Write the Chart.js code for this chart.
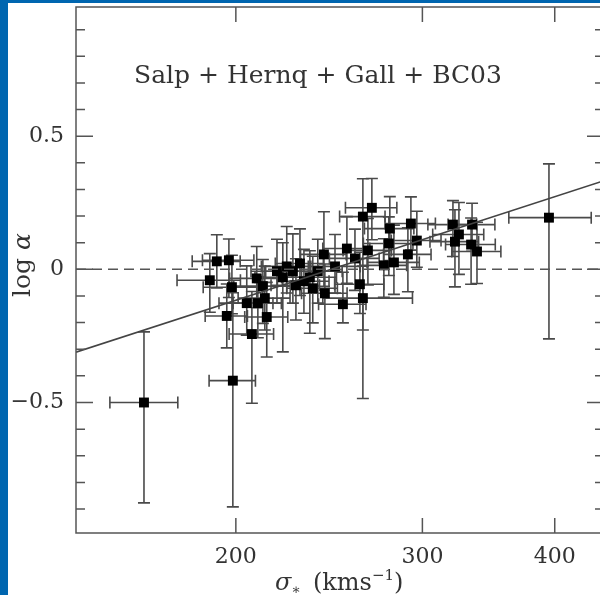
<!DOCTYPE html>
<html>
<head>
<meta charset="utf-8">
<script src="https://cdn.jsdelivr.net/npm/chart.js@4"></script>
<style>
  html, body { margin: 0; padding: 0; background: #fff; overflow: hidden; }
  #wrap { position: absolute; left: 0; top: 0; width: 615px; height: 595px; }
  .band { position: absolute; background: #0066b0; z-index: 2; }
</style>
</head>
<body>
<div id="wrap"><canvas id="chart" width="615" height="595"></canvas></div>
<div class="band" style="left:0;top:0;width:8px;height:595px"></div>
<div class="band" style="left:0;top:0;width:600px;height:3px"></div>
<script>
// velocity dispersion (km/s) and its error
const sigma    = [163.8, 198.7, 395.0, 189.0, 191.9, 197.0, 198.3, 196.1, 204.8, 207.1,
                  209.3, 212.1, 209.8, 213.0, 213.9, 218.7, 221.5, 223.4, 226.4, 227.9,
                  231.9, 234.9, 239.0, 242.2, 242.7, 248.1, 252.4, 254.6, 259.1, 261.9,
                  263.6, 263.6, 268.8, 266.5, 279.5, 278.9, 292.6, 296.4, 290.7, 275.9,
                  282.0, 320.6, 324.8, 322.0, 334.2, 333.5, 337.8, 229.9, 236.4];
const sigmaErrLo = [11.7, 10, 33, 13, 10, 11, 12, 9, 12, 10,
                    12, 13, 11, 12, 10, 12, 13, 12, 13, 12,
                    13, 14, 13, 12, 12, 14, 13, 13, 14, 14,
                    22, 13, 15, 14, 15, 15, 16, 16, 15, 14,
                    16, 17, 18, 17, 17, 18, 18, 12, 13];
const sigmaErrHi = [12.5, 10, 38, 13, 10, 11, 12, 9, 12, 10,
                    12, 13, 11, 12, 10, 12, 13, 12, 13, 12,
                    13, 14, 13, 12, 12, 14, 13, 13, 14, 14,
                    30, 13, 15, 14, 15, 15, 16, 16, 15, 14,
                    16, 17, 18, 17, 17, 18, 18, 12, 13];
// log alpha and its errors
const logAlpha = [-0.500, -0.418, 0.194, -0.041, 0.030, 0.034, -0.067, -0.175, -0.127, -0.243,
                  -0.034, -0.063, -0.127, -0.108, -0.179, -0.007, -0.030, 0.011, -0.007, -0.060,
                  -0.045, -0.030, -0.007, 0.056, -0.090, 0.011, -0.131, 0.078, 0.041, -0.056,
                  -0.108, 0.198, 0.231, 0.071, 0.153, 0.097, 0.172, 0.108, 0.056, 0.015,
                  0.026, 0.168, 0.131, 0.104, 0.168, 0.093, 0.067, 0.022, -0.071];
const logAlphaErrUp = [0.265, 0.33, 0.202, 0.10, 0.10, 0.08, 0.12, 0.12, 0.14, 0.16,
                       0.12, 0.10, 0.10, 0.12, 0.13, 0.12, 0.13, 0.15, 0.14, 0.10,
                       0.12, 0.10, 0.12, 0.16, 0.11, 0.12, 0.12, 0.12, 0.11, 0.12,
                       0.12, 0.142, 0.11, 0.12, 0.12, 0.10, 0.10, 0.11, 0.10, 0.10,
                       0.14, 0.09, 0.12, 0.12, 0.08, 0.10, 0.11, 0.13, 0.12];
const logAlphaErrDn = [0.377, 0.474, 0.455, 0.12, 0.10, 0.14, 0.10, 0.12, 0.12, 0.26,
                       0.11, 0.14, 0.13, 0.12, 0.15, 0.12, 0.28, 0.10, 0.12, 0.13,
                       0.12, 0.21, 0.12, 0.12, 0.17, 0.10, 0.07, 0.13, 0.12, 0.11,
                       0.12, 0.683, 0.12, 0.13, 0.12, 0.12, 0.10, 0.10, 0.14, 0.12,
                       0.12, 0.12, 0.15, 0.17, 0.10, 0.149, 0.12, 0.12, 0.13];
// best fit line and axis settings
const fitSigma = [141.3, 445.2];
const fitLogAlpha = [-0.311, 0.333];
const xTicks = [200, 300, 400];
const yTicks = [-0.5, 0, 0.5];
const yMinor = [-0.9, -0.8, -0.7, -0.6, -0.4, -0.3, -0.2, -0.1, 0.1, 0.2, 0.3, 0.4, 0.6, 0.7, 0.8, 0.9];
const xRange = [141.3, 445.2];
const yRange = [-0.99, 0.985];
const label = 'Salp + Hernq + Gall + BC03';

const SERIF = '"DejaVu Serif", serif';
const INK = '#333';
const BAR = '#4a4a4a';

const points = sigma.map((s, i) => ({ x: s, y: logAlpha[i] }));

const errorBars = {
  id: 'errorBars',
  beforeDatasetsDraw(chart) {
    const { ctx, scales: { x, y } } = chart;
    ctx.save();
    ctx.strokeStyle = BAR;
    ctx.lineWidth = 1.6;
    const cap = 6;
    sigma.forEach((s, i) => {
      const px = x.getPixelForValue(s), py = y.getPixelForValue(logAlpha[i]);
      const x0 = x.getPixelForValue(s - sigmaErrLo[i]), x1 = x.getPixelForValue(s + sigmaErrHi[i]);
      const y0 = y.getPixelForValue(logAlpha[i] + logAlphaErrUp[i]);
      const y1 = y.getPixelForValue(logAlpha[i] - logAlphaErrDn[i]);
      ctx.beginPath();
      ctx.moveTo(x0, py); ctx.lineTo(x1, py);
      ctx.moveTo(px, y0); ctx.lineTo(px, y1);
      ctx.moveTo(x0, py - cap); ctx.lineTo(x0, py + cap);
      ctx.moveTo(x1, py - cap); ctx.lineTo(x1, py + cap);
      ctx.moveTo(px - cap, y0); ctx.lineTo(px + cap, y0);
      ctx.moveTo(px - cap, y1); ctx.lineTo(px + cap, y1);
      ctx.stroke();
    });
    ctx.restore();
  }
};

const frame = {
  id: 'frame',
  afterDraw(chart) {
    const { ctx, chartArea: a, scales: { x, y } } = chart;
    ctx.save();
    ctx.strokeStyle = '#555';
    ctx.lineWidth = 1.5;
    ctx.strokeRect(a.left, a.top, a.right - a.left, a.bottom - a.top);
    ctx.beginPath();
    xTicks.forEach(v => {
      const px = x.getPixelForValue(v);
      ctx.moveTo(px, a.bottom); ctx.lineTo(px, a.bottom - 15);
      ctx.moveTo(px, a.top); ctx.lineTo(px, a.top + 15);
    });
    yTicks.forEach(v => {
      const py = y.getPixelForValue(v);
      ctx.moveTo(a.left, py); ctx.lineTo(a.left + 17, py);
      ctx.moveTo(a.right, py); ctx.lineTo(a.right - 17, py);
    });
    yMinor.forEach(v => {
      const py = y.getPixelForValue(v);
      ctx.moveTo(a.left, py); ctx.lineTo(a.left + 9, py);
      ctx.moveTo(a.right, py); ctx.lineTo(a.right - 9, py);
    });
    ctx.stroke();

    ctx.fillStyle = INK;
    ctx.textBaseline = 'alphabetic';
    // label inside plot
    ctx.font = '25px ' + SERIF;
    ctx.textAlign = 'center';
    ctx.fillText(label, 318, 83);

    // x title: sigma_* (kms^-1)
    ctx.textAlign = 'left';
    let cx = 275;
    const base = 590;
    ctx.font = 'italic 24px ' + SERIF;
    ctx.fillText('σ', cx, base); cx += ctx.measureText('σ').width;
    ctx.font = '14px ' + SERIF;
    ctx.fillText('∗', cx, base + 4); cx += ctx.measureText('∗').width + 12;
    ctx.font = '24px ' + SERIF;
    ctx.fillText('(kms', cx, base); cx += ctx.measureText('(kms').width;
    ctx.font = '15px ' + SERIF;
    ctx.fillText('−1', cx, base - 10); cx += ctx.measureText('−1').width;
    ctx.font = '24px ' + SERIF;
    ctx.fillText(')', cx, base);

    // y title: log alpha
    ctx.translate(30, 265);
    ctx.rotate(-Math.PI / 2);
    ctx.font = '25px ' + SERIF;
    const w1 = ctx.measureText('log ').width;
    ctx.font = 'italic 25px ' + SERIF;
    const w2 = ctx.measureText('α').width;
    let tx = -(w1 + w2) / 2;
    ctx.font = '25px ' + SERIF;
    ctx.fillText('log ', tx, 0);
    ctx.font = 'italic 25px ' + SERIF;
    ctx.fillText('α', tx + w1, 0);
    ctx.restore();
  }
};

new Chart(document.getElementById('chart'), {
  type: 'scatter',
  data: {
    datasets: [
      {
        type: 'line',
        data: fitSigma.map(s => ({ x: s, y: 0 })),
        borderColor: '#555',
        borderWidth: 1.5,
        borderDash: [10, 6],
        pointRadius: 0
      },
      {
        type: 'line',
        data: fitSigma.map((s, i) => ({ x: s, y: fitLogAlpha[i] })),
        borderColor: '#444',
        borderWidth: 1.5,
        pointRadius: 0
      },
      {
        data: points,
        pointStyle: 'rect',
        pointRadius: 7,
        backgroundColor: '#000',
        borderColor: '#000',
        borderWidth: 0
      }
    ]
  },
  options: {
    responsive: false,
    animation: false,
    layout: { padding: { left: 0, top: 4, right: 11, bottom: 0 } },
    plugins: { legend: { display: false }, tooltip: { enabled: false } },
    scales: {
      x: {
        type: 'logarithmic',
        min: xRange[0],
        max: xRange[1],
        grid: { display: false },
        border: { display: false },
        afterBuildTicks: s => { s.ticks = xTicks.map(v => ({ value: v })); },
        afterFit: s => { s.height = 62; s.paddingLeft = 0; s.paddingRight = 0; },
        ticks: {
          autoSkip: false,
          maxRotation: 0,
          padding: 3,
          color: INK,
          font: { family: SERIF, size: 22 },
          callback: v => String(v)
        }
      },
      y: {
        min: yRange[0],
        max: yRange[1],
        grid: { display: false },
        border: { display: false },
        afterBuildTicks: s => { s.ticks = yTicks.map(v => ({ value: v })); },
        afterFit: s => { s.width = 76; s.paddingTop = 0; s.paddingBottom = 0; },
        ticks: {
          padding: 4,
          color: INK,
          font: { family: SERIF, size: 22 },
          callback: v => (v < 0 ? '−' + Math.abs(v) : String(v))
        }
      }
    }
  },
  plugins: [errorBars, frame]
});
</script>
</body>
</html>
